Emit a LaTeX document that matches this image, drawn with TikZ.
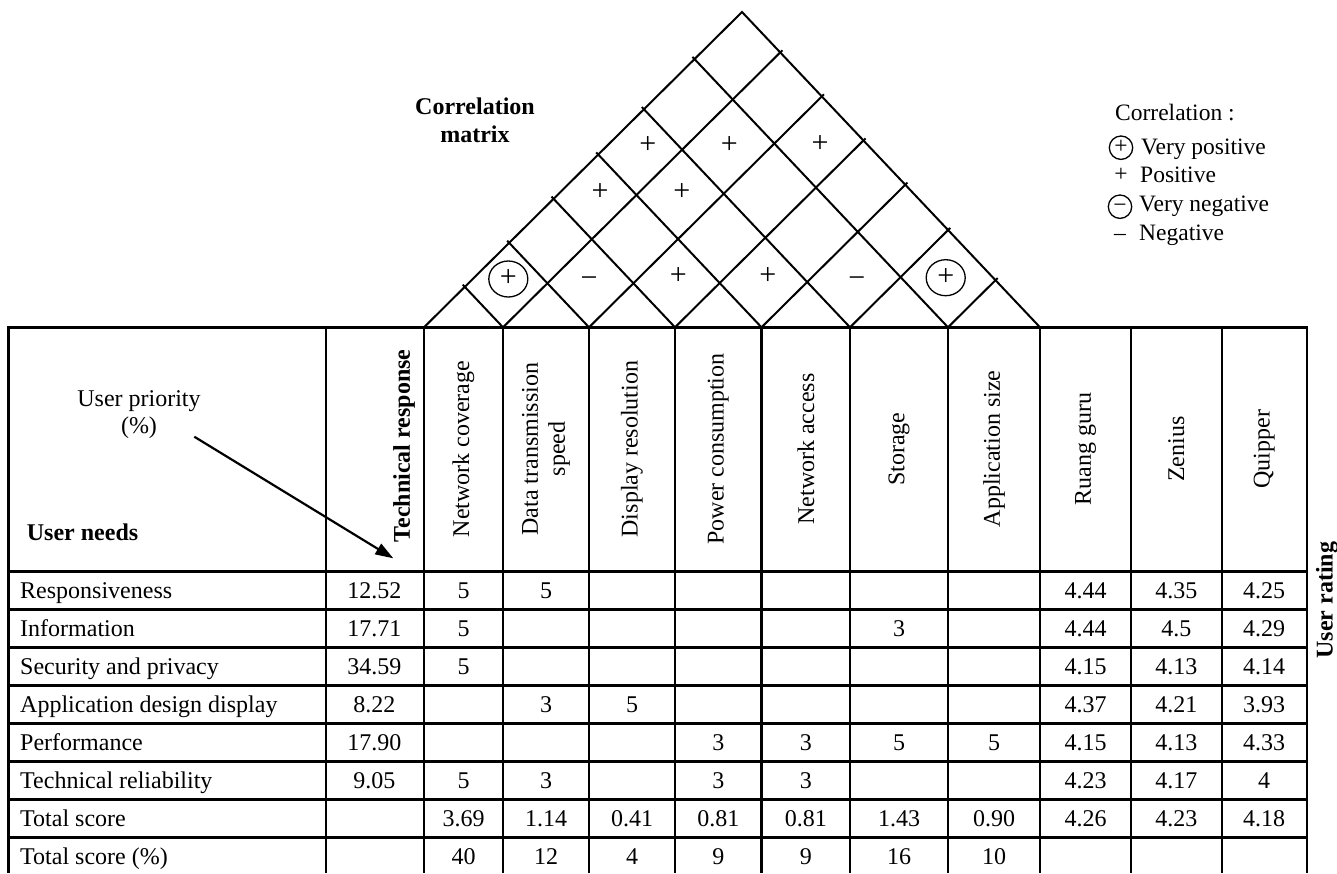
\documentclass[tikz,border=0pt]{standalone}
\usepackage{fontspec}
\setmainfont{Liberation Serif}
\usetikzlibrary{arrows.meta,calc}
\begin{document}
\begin{tikzpicture}[x=1pt,y=-1pt,
  tline/.style={line width=2.4pt},
  rline/.style={line width=2pt},
  body/.style={font=\fontsize{24}{27}\selectfont, inner sep=0pt},
  cellnum/.style={body, anchor=base},
  needtxt/.style={body, anchor=base west},
  headtxt/.style={body, rotate=90, align=center},
  boldlab/.style={inner sep=0pt, align=center, font=\fontsize{24}{27.7}\selectfont\bfseries},
  rsym/.style={inner sep=0pt, anchor=base, font=\fontsize{30}{30}\selectfont},
  lsym/.style={inner sep=0pt, anchor=base, font=\fontsize{23.5}{26}\selectfont},
  legtxt/.style={inner sep=0pt, anchor=base west, font=\fontsize{23.5}{26}\selectfont},
  ring/.style={line width=1.3pt},
  pointer/.style={line width=2.2pt, -{Triangle[length=18pt,width=12pt]}}
]
\useasboundingbox (0,0) rectangle (1337,873);

% ---------- table grid ----------
\foreach \x in {8.3,326,424,503,589,675,761.5,850,948,1040,1131,1221.7,1306.7}
  \draw[tline] (\x,327.3) -- (\x,873);
\foreach \y in {327.3,571.5,609.5,647.4,685.4,723.4,761.4,799.3,837.3}
  \draw[tline, line cap=rect] (8.3,\y) -- (1306.7,\y);

% ---------- roof ----------
\coordinate (A) at (742,12);
\foreach \k/\x in {0/424,1/503,2/589,3/675,4/761.5,5/850,6/948,7/1040}
  \coordinate (B\k) at (\x,327.3);
\draw[rline] (B0) -- (A) -- (B7);
% end points of the grid lines on the right edge (E) and left edge (W)
\foreach \k/\ex/\ey/\wx/\wy in {1/780.21/52.44/464.78/286.86, 2/821.82/96.46/509.18/242.84,
    3/863.43/140.47/553.58/198.83, 4/905.27/184.75/598.23/154.55,
    5/948.08/230.05/643.92/109.25, 6/995.49/280.21/694.51/59.09}{
  \coordinate (E\k) at (\ex,\ey);
  \coordinate (W\k) at (\wx,\wy);
  \draw[rline, shorten >=-3pt] (B\k) -- (E\k);
  \draw[rline, shorten >=-3pt] (B\k) -- (W\k);
}

% roof symbols
\foreach \n/\x/\y/\s in {a/508.3/279/+, b/589/280/−, c/678.3/276.7/+, d/767.7/276.7/+,
    e/856.7/280/−, f/945.7/277.7/+, g/600/193.3/+, h/681.7/193.3/+,
    i/647.7/146/+, j/729.3/146/+, k/820/145/+}
  \node[rsym] (sym\n) at (\x,\y+7.5) {\s};
\draw[ring] (508.3,279) ellipse [x radius=19.5, y radius=18];
\draw[ring] (945.7,277.7) ellipse [x radius=19.5, y radius=18];

\node[boldlab] (corrlab) at (475,120.6) {Correlation\\matrix};

% ---------- legend ----------
\node[legtxt] (legtitle) at (1115,120) {Correlation :};
\draw[ring] (1121,147.7) circle [radius=11.7];
\node[lsym] (lvp) at (1121,153.6) {+};
\node[legtxt] (tvp) at (1141,154.3) {Very positive};
\node[lsym] (lp) at (1121,181.9) {+};
\node[legtxt] (tp) at (1140,182.7) {Positive};
\draw[ring] (1120,206.7) circle [radius=11.7];
\node[lsym] (lvn) at (1120,212.6) {−};
\node[legtxt] (tvn) at (1139,211.7) {Very negative};
\node[lsym] (ln) at (1120,240.3) {–};
\node[legtxt] (tn) at (1139,240) {Negative};

% ---------- header ----------
\node[body, align=center] (uprio) at (139,414.9) {User priority\\(\%)};
\node[body, anchor=base west, font=\fontsize{24}{27}\selectfont\bfseries] (uneeds) at (26.7,540) {User needs};
\coordinate (pS) at (194.3,436.7);
\coordinate (pE) at (393.3,558.3);
\draw[pointer] (pS) -- (pE);

\node[headtxt, font=\fontsize{24}{27}\selectfont\bfseries] (h1) at (404,446) {Technical response};
\foreach \c/\x/\t in {2/463.5/Network coverage, 3/546/{Data transmission\\speed},
    4/632/Display resolution, 5/718.3/Power consumption, 6/805.8/Network access,
    7/899/Storage, 8/994/Application size, 9/1085.5/Ruang guru,
    10/1176.4/Zenius, 11/1264.2/Quipper}
  \node[headtxt] (h\c) at (\x,449) {\t};
\node[headtxt, font=\fontsize{24}{27}\selectfont\bfseries] (urating) at (1327,600) {User rating};

% ---------- body ----------
\foreach \c/\x in {1/374.4,2/463.5,3/546,4/632,5/718.3,6/805.8,7/899,8/994,9/1085.5,10/1176.4,11/1264.2}
  \coordinate (X\c) at (\x,0);
\foreach \r/\y in {0/598.8,1/636.8,2/674.7,3/712.7,4/750.7,5/788.7,6/826.6,7/864.6}
  \coordinate (Y\r) at (0,\y);

\foreach \r/\t in {0/Responsiveness, 1/Information, 2/Security and privacy,
    3/Application design display, 4/Performance, 5/Technical reliability,
    6/Total score, 7/Total score (\%)}
  \node[needtxt] (need\r) at ($(20,0)+(Y\r)$) {\t};

\foreach \r/\c/\v in {
  0/1/12.52, 0/2/5, 0/3/5, 0/9/4.44, 0/10/4.35, 0/11/4.25,
  1/1/17.71, 1/2/5, 1/7/3, 1/9/4.44, 1/10/4.5, 1/11/4.29,
  2/1/34.59, 2/2/5, 2/9/4.15, 2/10/4.13, 2/11/4.14,
  3/1/8.22, 3/3/3, 3/4/5, 3/9/4.37, 3/10/4.21, 3/11/3.93,
  4/1/17.90, 4/5/3, 4/6/3, 4/7/5, 4/8/5, 4/9/4.15, 4/10/4.13, 4/11/4.33,
  5/1/9.05, 5/2/5, 5/3/3, 5/5/3, 5/6/3, 5/9/4.23, 5/10/4.17, 5/11/4,
  6/2/3.69, 6/3/1.14, 6/4/0.41, 6/5/0.81, 6/6/0.81, 6/7/1.43, 6/8/0.90, 6/9/4.26, 6/10/4.23, 6/11/4.18,
  7/2/40, 7/3/12, 7/4/4, 7/5/9, 7/6/9, 7/7/16, 7/8/10}
  \node[cellnum] (v\r-\c) at (X\c |- Y\r) {\v};
\end{tikzpicture}
\end{document}
